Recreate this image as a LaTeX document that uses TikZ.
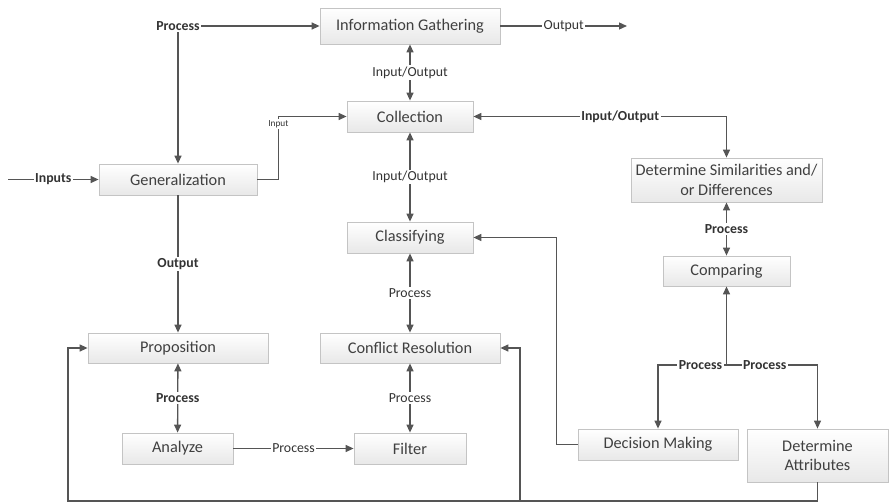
\documentclass[tikz,border=0pt]{standalone}
\usepackage{fontspec}
\setmainfont{Carlito}
\usetikzlibrary{arrows.meta,shadows}
\definecolor{boxline}{HTML}{C4C4C4}
\definecolor{boxtext}{HTML}{404040}
\definecolor{wire}{HTML}{555555}
\definecolor{lbltext}{HTML}{333333}
\tikzset{
  box/.style={rectangle, draw=boxline, line width=0.8pt, top color=white, bottom color=black!9,
    text=boxtext, font=\fontsize{16.3}{19.5}\selectfont, align=center, inner sep=2pt,
    drop shadow={shadow xshift=1.2pt, shadow yshift=-1.2pt, opacity=0.25, fill=black!60}},
  wirebase/.style={draw=wire, line width=1.3pt},
  arr/.style={wirebase, -{Triangle[length=8pt,width=7pt]}},
  both/.style={wirebase, {Triangle[length=8pt,width=7pt]}-{Triangle[length=8pt,width=7pt]}},
  lbl/.style={fill=white, text=lbltext, inner sep=1.5pt, font=\fontsize{13.8}{16}\selectfont},
  blbl/.style={lbl, font=\fontsize{13.8}{16}\selectfont\bfseries},
  smalllbl/.style={lbl, inner sep=1pt, font=\fontsize{9.3}{11}\selectfont}
}
\begin{document}
\begin{tikzpicture}[x=1pt,y=-1pt]
\useasboundingbox (0,0) rectangle (889,503);

% process boxes
\node[box, minimum width=180pt, minimum height=36pt] (info)  at (410,26)    {Information Gathering};
\node[box, minimum width=126pt, minimum height=31pt] (coll)  at (410,116.5) {Collection};
\node[box, minimum width=158pt, minimum height=31pt] (gen)   at (178,179.5) {Generalization};
\node[box, minimum width=126pt, minimum height=31pt] (class) at (410,237.5) {Classifying};
\node[box, minimum width=191pt, minimum height=44pt] (dsim)  at (726.5,180) {Determine Similarities and/\\or Differences};
\node[box, minimum width=127pt, minimum height=30pt] (comp)  at (726.5,271) {Comparing};
\node[box, minimum width=180pt, minimum height=30pt] (prop)  at (178,348)   {Proposition};
\node[box, minimum width=180pt, minimum height=30pt] (conf)  at (410,348)   {Conflict Resolution};
\node[box, minimum width=111pt, minimum height=31pt] (anal)  at (177.5,448.5) {Analyze};
\node[box, minimum width=112pt, minimum height=31pt] (filt)  at (410,448.5) {Filter};
\node[box, minimum width=160pt, minimum height=31pt] (dm)    at (658,444.5) {Decision Making};
\node[box, minimum width=141pt, minimum height=53pt] (dattr) at (817.5,455.5) {Determine\\Attributes};

% free ends and junctions
\coordinate (inStart) at (8,179.5);
\coordinate (outEnd)  at (627,26);
\coordinate (split)   at (726.5,365);
\coordinate (loopL)   at (68,501);
\coordinate (tap)     at (520,501);

% top row
\draw[both] (gen.north) |- node[blbl, pos=0.5] {Process} (info.west);
\draw[arr] (info.east) -- node[lbl] {Output} (outEnd);
\draw[arr] (inStart) -- node[blbl] {Inputs} (gen.west);
\draw[both] (info) -- node[lbl] {Input/Output} (coll);
\draw[arr] (gen.east) -- ++(21,0) |- node[smalllbl, pos=0.44] {Input} (coll.west);
\draw[both] (coll.east) -| node[blbl, pos=0.29] {Input/Output} (dsim.north);

% centre column
\draw[both] (coll) -- node[lbl] {Input/Output} (class);
\draw[both] (class) -- node[lbl] {Process} (conf);
\draw[both] (conf) -- node[lbl] {Process} (filt);

% left column
\draw[arr] (gen) -- node[blbl] {Output} (prop);
\draw[both] (prop) -- node[blbl] {Process} (anal);
\draw[arr] (anal) -- node[lbl] {Process} (filt);

% right column
\draw[both] (dsim) -- node[blbl] {Process} (comp);
\draw[arr] (split) -- (comp.south);
\draw[arr] (split) -| node[blbl, pos=0.19] {Process} (dm.north);
\draw[arr] (split) -| node[blbl, pos=0.21] {Process} (dattr.north);
\draw[arr] (dm.west) -- ++(-21,0) |- (class.east);

% feedback loop along the bottom
\draw[arr] (dattr.south) |- (loopL) |- (prop.west);
\draw[arr] (tap) |- (conf.east);
\end{tikzpicture}
\end{document}
